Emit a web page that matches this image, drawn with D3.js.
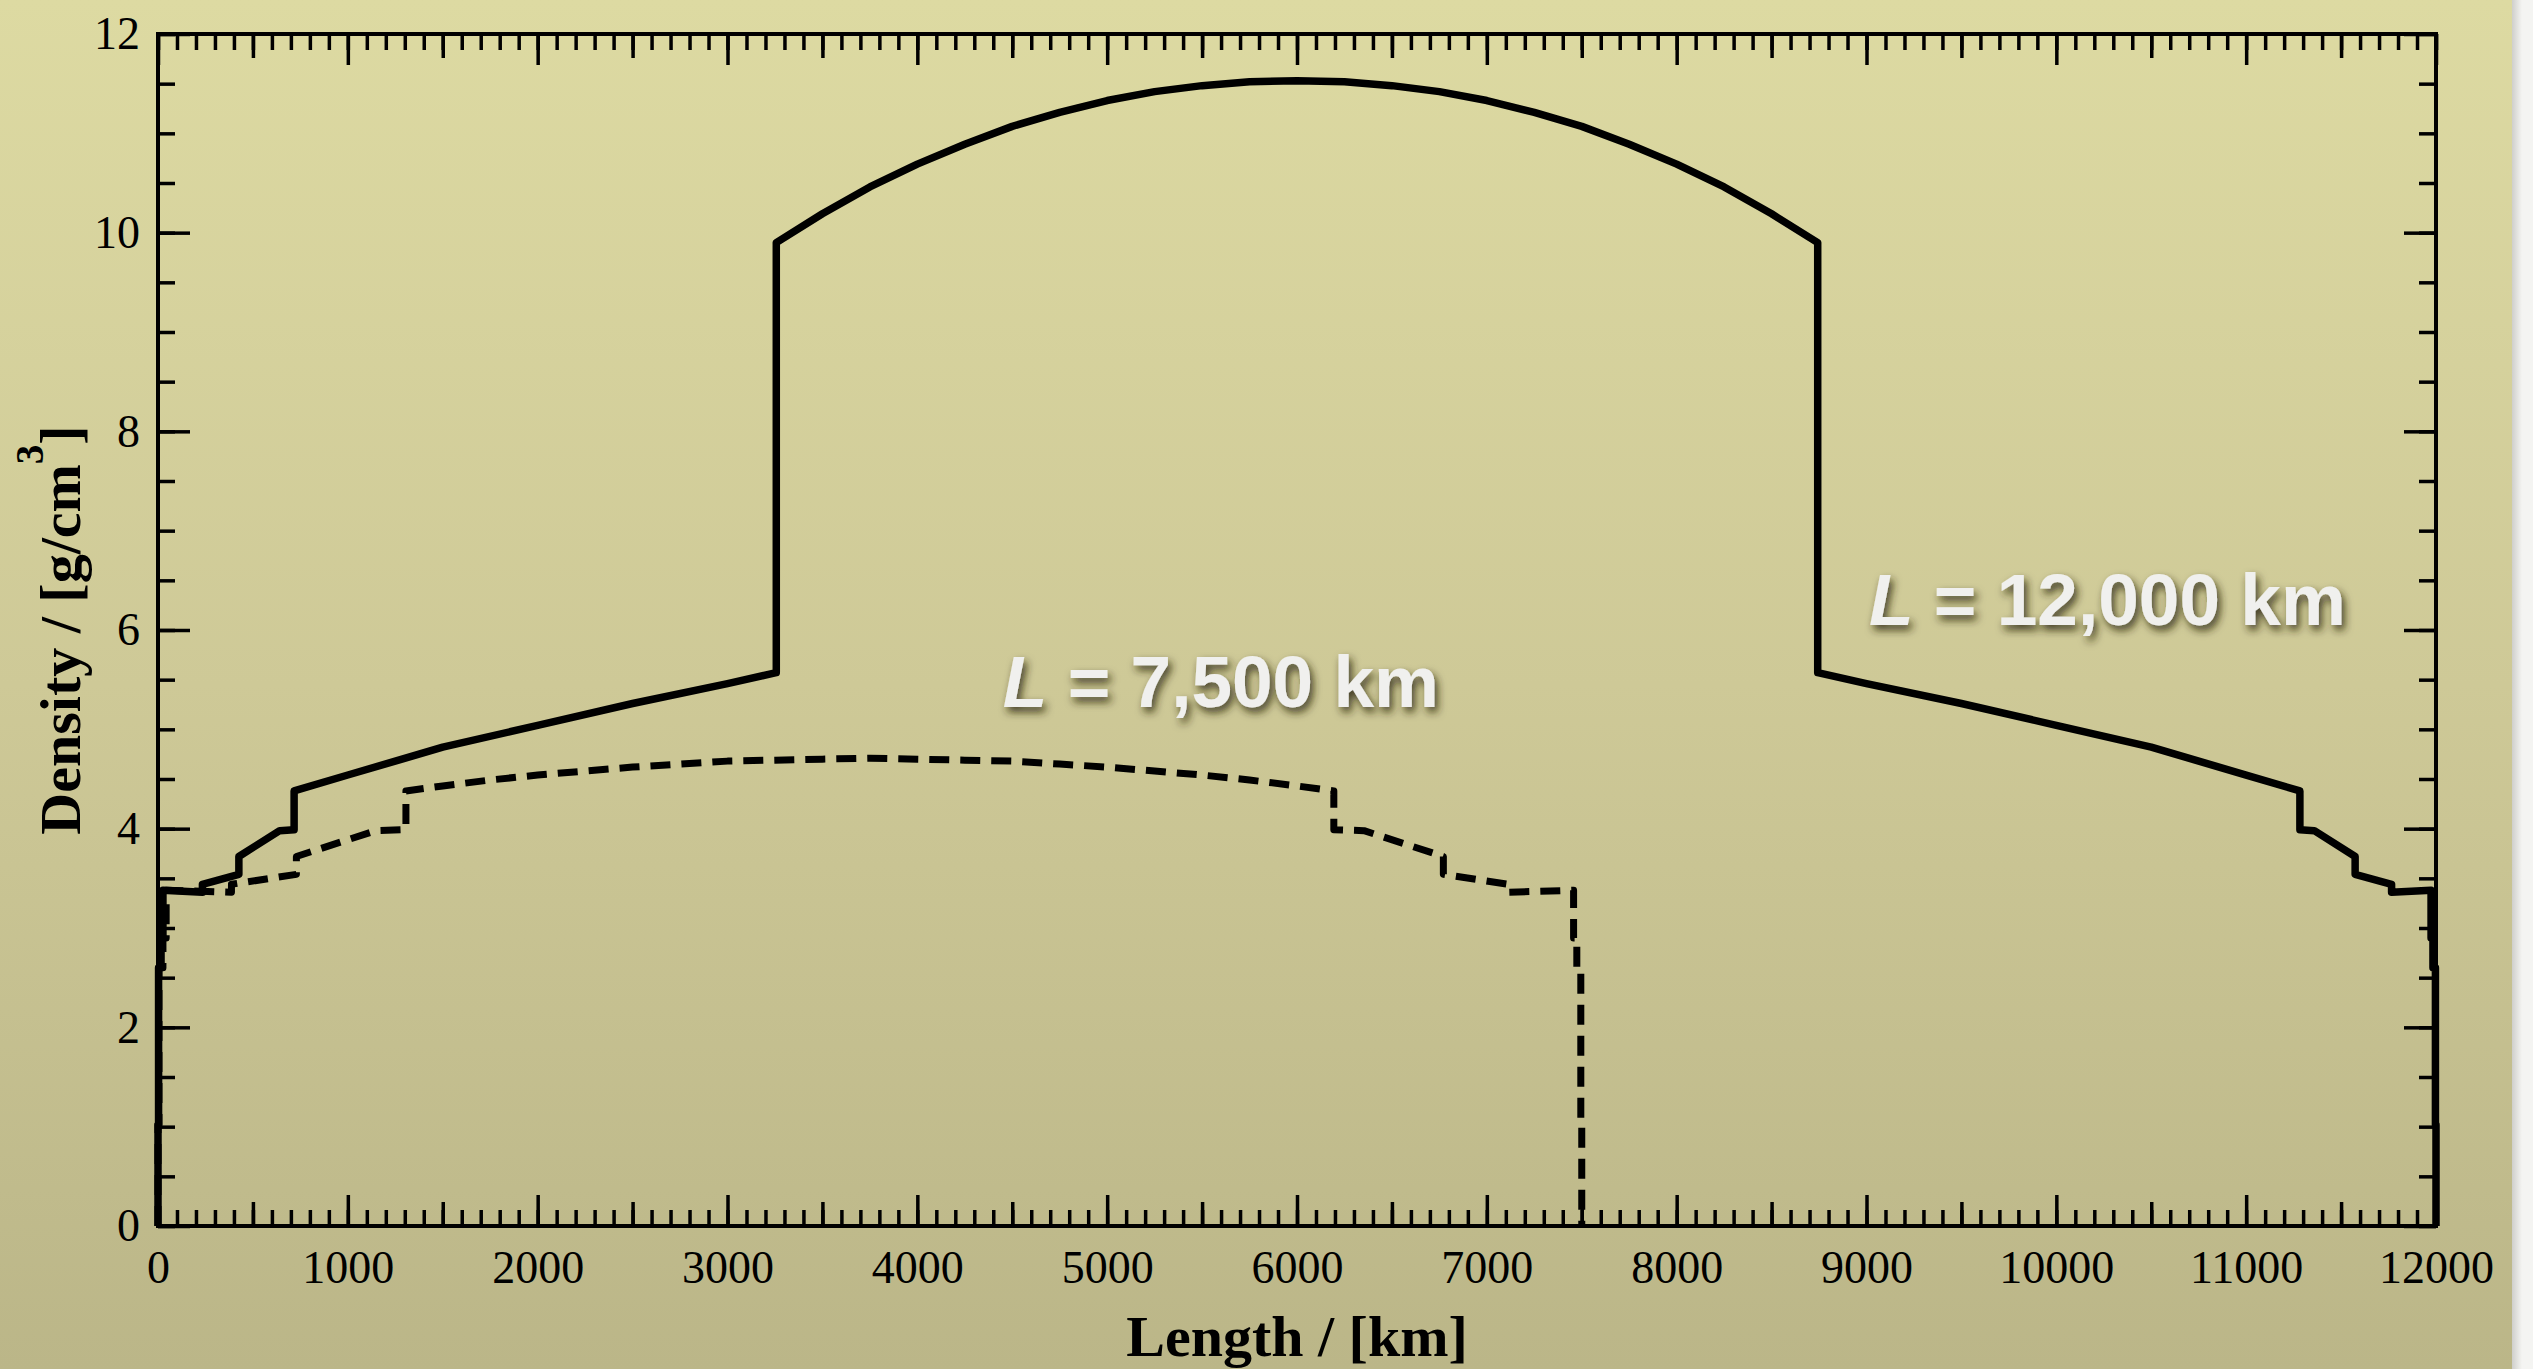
<!DOCTYPE html>
<html>
<head>
<meta charset="UTF-8">
<title>Density / Length</title>
<script src="https://cdn.jsdelivr.net/npm/d3@7"></script>
<style>
html, body { margin: 0; padding: 0; background: #f4f4f2; overflow: hidden; }
.tick line { stroke: #000; stroke-width: 3.5; }
.tick text { font-family: "Liberation Serif", "Times New Roman", serif; font-size: 46px; fill: #000; }
</style>
</head>
<body>
<div id="chart"></div>
<script>
// chord L = 12,000 km
var length12000 = [0, 0, 3, 3, 16, 16, 26, 26, 234, 234, 426, 426, 641, 717, 717,
  1000, 1500, 2000, 2500, 3000, 3257, 3257, 3500, 3750, 4000, 4250, 4500, 4750, 5000,
  5250, 5500, 5750, 6000, 6250, 6500, 6750, 7000, 7250, 7500, 7750, 8000, 8250, 8500,
  8743, 8743, 9000, 9500, 10000, 10500, 11000, 11283, 11283, 11359, 11574, 11574,
  11766, 11766, 11974, 11974, 11984, 11984, 11997, 11997, 12000, 12000];
var density12000 = [0, 1.02, 1.02, 2.60, 2.60, 2.90, 2.90, 3.38, 3.36, 3.44, 3.54, 3.72, 3.98, 3.99, 4.38,
  4.54, 4.82, 5.04, 5.26, 5.46, 5.57, 9.90, 10.19, 10.46, 10.69, 10.89, 11.07, 11.21, 11.33,
  11.42, 11.48, 11.52, 11.53, 11.52, 11.48, 11.42, 11.33, 11.21, 11.07, 10.89, 10.69, 10.46, 10.19,
  9.90, 5.57, 5.46, 5.26, 5.04, 4.82, 4.54, 4.38, 3.99, 3.98, 3.72, 3.54,
  3.44, 3.36, 3.38, 2.90, 2.90, 2.60, 2.60, 1.02, 1.02, 0];

// chord L = 7,500 km
var length7500 = [0, 0, 5, 5, 26, 26, 43, 43, 387, 387, 729, 729, 1147, 1306, 1306,
  1500, 1750, 2000, 2250, 2500, 2750, 3000, 3250, 3500, 3750, 4000, 4250, 4500, 4750,
  5000, 5250, 5500, 5750, 6000, 6194, 6194, 6353, 6771, 6771, 7113, 7113, 7457, 7457,
  7474, 7474, 7495, 7495, 7500, 7500];
var density7500 = [0, 1.02, 1.02, 2.60, 2.60, 2.90, 2.90, 3.38, 3.36, 3.44, 3.54, 3.72, 3.98, 3.99, 4.38,
  4.43, 4.49, 4.54, 4.58, 4.62, 4.65, 4.68, 4.69, 4.70, 4.71, 4.70, 4.69, 4.68, 4.65,
  4.62, 4.58, 4.54, 4.49, 4.43, 4.38, 3.99, 3.98, 3.72, 3.54, 3.44, 3.36, 3.38, 2.90,
  2.90, 2.60, 2.60, 1.02, 1.02, 0];

var xMajor = [0, 1000, 2000, 3000, 4000, 5000, 6000, 7000, 8000, 9000, 10000, 11000, 12000];
var yMajor = [0, 2, 4, 6, 8, 10, 12];
var curveNames = ["7,500 km", "12,000 km"];

var width = 2533, height = 1369;
var plot = { left: 158, right: 2436, top: 34, bottom: 1226 };

var svg = d3.select("#chart").append("svg")
  .attr("width", width).attr("height", height);

var defs = svg.append("defs");
var bg = defs.append("linearGradient").attr("id", "bg")
  .attr("x1", 0).attr("y1", 0).attr("x2", 0).attr("y2", 1);
bg.append("stop").attr("offset", "0%").attr("stop-color", "#dddaa2");
bg.append("stop").attr("offset", "50%").attr("stop-color", "#cec997");
bg.append("stop").attr("offset", "100%").attr("stop-color", "#bbb688");

var edge = defs.append("linearGradient").attr("id", "edge");
edge.append("stop").attr("offset", "0%").attr("stop-color", "#cfcfcb");
edge.append("stop").attr("offset", "100%").attr("stop-color", "#f4f4f2");

var shadow = defs.append("filter").attr("id", "shadow")
  .attr("x", "-10%").attr("y", "-30%").attr("width", "130%").attr("height", "170%");
shadow.append("feDropShadow")
  .attr("dx", 3).attr("dy", 5).attr("stdDeviation", 4)
  .attr("flood-color", "#2b2810").attr("flood-opacity", 0.85);

svg.append("rect").attr("x", 2512).attr("y", 0).attr("width", 10).attr("height", height)
  .attr("fill", "url(#edge)");
svg.append("rect").attr("x", 0).attr("y", 0).attr("width", 2512).attr("height", height)
  .attr("fill", "url(#bg)");

var x = d3.scaleLinear().domain([0, 12000]).range([plot.left, plot.right]);
var y = d3.scaleLinear().domain([0, 12]).range([plot.bottom, plot.top]);

function noDomain(g) { g.select(".domain").remove(); }

// x ticks, bottom and top, pointing inwards
[[d3.axisBottom, plot.bottom], [d3.axisTop, plot.top]].forEach(function(a, i) {
  var make = a[0], pos = a[1];
  svg.append("g").attr("transform", "translate(0," + pos + ")")
    .call(make(x).tickValues(d3.range(0, 12001, 100)).tickSize(-16).tickFormat(""))
    .call(noDomain);
  svg.append("g").attr("transform", "translate(0," + pos + ")")
    .call(make(x).tickValues(d3.range(500, 12000, 1000)).tickSize(-24).tickFormat(""))
    .call(noDomain);
  svg.append("g").attr("transform", "translate(0," + pos + ")")
    .call(make(x).tickValues(xMajor).tickSize(-31).tickPadding(24)
      .tickFormat(i == 0 ? d3.format("d") : ""))
    .call(noDomain);
});

// y ticks, left and right
[[d3.axisLeft, plot.left], [d3.axisRight, plot.right]].forEach(function(a, i) {
  var make = a[0], pos = a[1];
  svg.append("g").attr("transform", "translate(" + pos + ",0)")
    .call(make(y).tickValues(d3.range(0, 12.01, 0.5)).tickSize(-17).tickFormat(""))
    .call(noDomain);
  svg.append("g").attr("transform", "translate(" + pos + ",0)")
    .call(make(y).tickValues(yMajor).tickSize(-32).tickPadding(18)
      .tickFormat(i == 0 ? d3.format("d") : ""))
    .call(noDomain);
});

// frame
svg.append("rect")
  .attr("x", plot.left).attr("y", plot.top)
  .attr("width", plot.right - plot.left).attr("height", plot.bottom - plot.top)
  .attr("fill", "none").attr("stroke", "#000").attr("stroke-width", 4);

var line = d3.line()
  .x(function(d) { return x(d[0]); })
  .y(function(d) { return y(d[1]); });

svg.append("path")
  .datum(d3.zip(length7500, density7500))
  .attr("d", line)
  .attr("fill", "none").attr("stroke", "#000")
  .attr("stroke-width", 7).attr("stroke-dasharray", "20,11")
  .attr("stroke-linejoin", "round");

svg.append("path")
  .datum(d3.zip(length12000, density12000))
  .attr("d", line)
  .attr("fill", "none").attr("stroke", "#000")
  .attr("stroke-width", 7.5).attr("stroke-linejoin", "round");

// axis titles
svg.append("text")
  .attr("x", (plot.left + plot.right) / 2).attr("y", 1356)
  .attr("text-anchor", "middle")
  .style("font-family", "'Liberation Serif', 'Times New Roman', serif")
  .style("font-weight", "bold").style("font-size", "58px")
  .text("Length / [km]");

var yt = svg.append("text")
  .attr("transform", "translate(80," + ((plot.top + plot.bottom) / 2) + ") rotate(-90)")
  .attr("text-anchor", "middle")
  .style("font-family", "'Liberation Serif', 'Times New Roman', serif")
  .style("font-weight", "bold").style("font-size", "58px");
yt.append("tspan").text("Density / [g/cm");
yt.append("tspan").attr("dy", -37).style("font-size", "39px").text("3");
yt.append("tspan").attr("dy", 37).text("]");

// curve labels
var labelPos = [[4450, 5.225], [9013, 6.05]];
curveNames.forEach(function(name, i) {
  var t = svg.append("text")
    .attr("x", x(labelPos[i][0])).attr("y", y(labelPos[i][1]))
    .attr("filter", "url(#shadow)")
    .style("font-family", "'Liberation Sans', Arial, Helvetica, sans-serif")
    .style("font-weight", "bold")
    .style("font-size", "73px").style("fill", "#f0f0ee");
  t.append("tspan").style("font-style", "italic").text("L");
  t.append("tspan").text(" = " + name);
});
</script>
</body>
</html>
